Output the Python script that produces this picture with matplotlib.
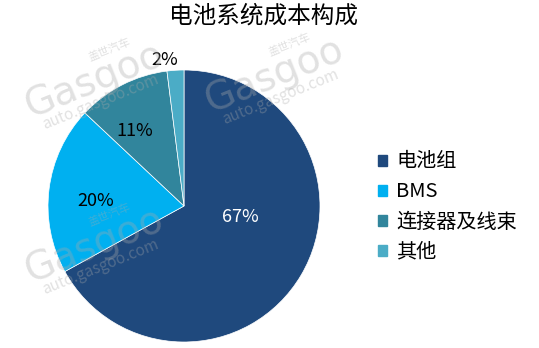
import matplotlib.pyplot as plt
import numpy as np

plt.rcParams['font.family'] = ['Noto Sans CJK SC', 'DejaVu Sans']

# data
labels = ['电池组', 'BMS', '连接器及线束', '其他']
values = [67, 20, 11, 2]
colors = ['#1F497D', '#00B0F0', '#31859C', '#4BACC6']
pct_colors = ['white', 'black', 'black', 'black']
# label radius / angle shift for each slice
pct_r = [0.42, 0.65, 0.66, 1.08]
pct_shift = [20, 4, 6, 4]

fig = plt.figure(figsize=(5.39, 3.48), dpi=100)
ax = fig.add_axes([48/539, 6/348, 272/539, 272/348])

wedges, _ = ax.pie(values, colors=colors, startangle=90, counterclock=False,
                   wedgeprops=dict(edgecolor='white', linewidth=0.5))
ax.set_xlim(-1, 1)
ax.set_ylim(-1, 1)
ax.set_aspect('equal')

for w, v, c, r, s in zip(wedges, values, pct_colors, pct_r, pct_shift):
    a = np.deg2rad((w.theta1 + w.theta2) / 2 + s)
    ax.text(r*np.cos(a), r*np.sin(a), '{}%'.format(v), color=c,
            ha='center', va='center', fontsize=13, zorder=5)

# watermarks
for (x, y) in [(95, 80), (275, 75), (95, 245)]:
    fig.text(x/539, 1 - y/348, 'Gasgoo', fontsize=28, color='#aaaaaa', alpha=0.35,
             rotation=22, ha='center', va='center', family='DejaVu Sans', zorder=10)
    fig.text((x+5)/539, 1 - (y+22)/348, 'auto.gasgoo.com', fontsize=11, color='#aaaaaa',
             alpha=0.35, rotation=22, ha='center', va='center', zorder=10)
    fig.text((x+15)/539, 1 - (y-30)/348, '盖世汽车', fontsize=8, color='#aaaaaa',
             alpha=0.35, rotation=22, ha='center', va='center', zorder=10)

fig.text(263/539, 1 - 16/348, '电池系统成本构成', fontsize=17, ha='center', va='center')

handles = [plt.Rectangle((0, 0), 1, 1, color=c) for c in colors]
fig.legend(handles, labels, loc='center left', bbox_to_anchor=(360/539, 1 - 207/348),
           frameon=False, fontsize=14.5, handlelength=0.45, handleheight=0.45,
           handletextpad=0.45, labelspacing=0.45)

fig.savefig('out.png', dpi=100)
